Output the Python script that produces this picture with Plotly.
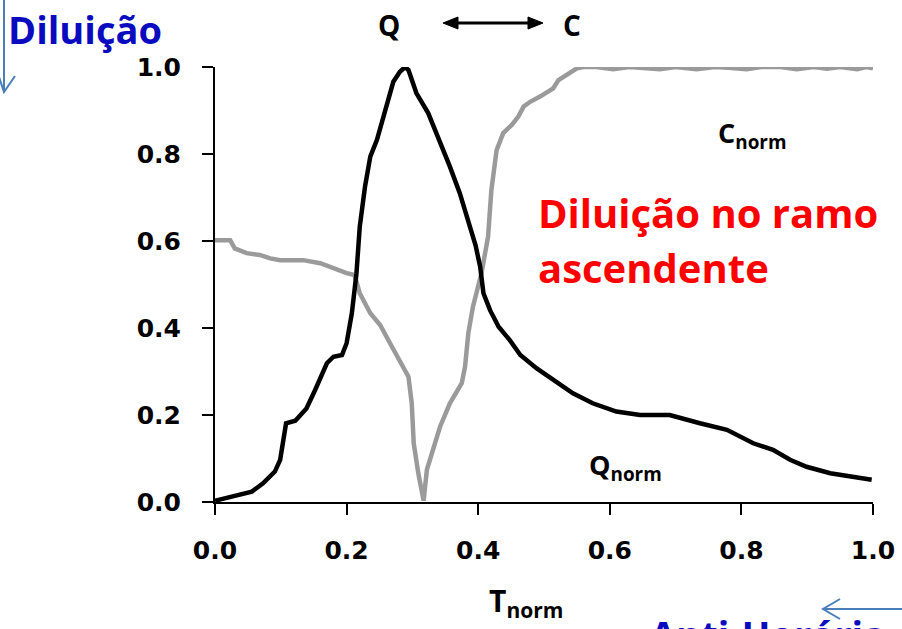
import plotly.graph_objects as go

# ---------------- data ----------------
q_x = [0.000, 0.018, 0.038, 0.056, 0.073, 0.091, 0.099, 0.103, 0.108, 0.122, 0.139, 0.152,
       0.170, 0.180, 0.193, 0.200, 0.208, 0.215, 0.220, 0.228, 0.236, 0.246, 0.253, 0.263,
       0.271, 0.281, 0.289, 0.294, 0.306, 0.324, 0.339, 0.357, 0.372, 0.388, 0.396, 0.403,
       0.408, 0.418, 0.431, 0.448, 0.464, 0.489, 0.514, 0.544, 0.574, 0.610, 0.646, 0.691,
       0.737, 0.778, 0.818, 0.848, 0.874, 0.899, 0.935, 0.965, 0.998]
q_y = [0.003, 0.009, 0.016, 0.024, 0.043, 0.070, 0.097, 0.143, 0.181, 0.187, 0.215, 0.257,
       0.319, 0.334, 0.338, 0.365, 0.434, 0.526, 0.633, 0.725, 0.794, 0.832, 0.870, 0.930,
       0.966, 0.989, 1.000, 0.993, 0.940, 0.894, 0.840, 0.771, 0.710, 0.633, 0.590, 0.541,
       0.480, 0.441, 0.403, 0.372, 0.338, 0.307, 0.280, 0.250, 0.227, 0.208, 0.200, 0.200,
       0.181, 0.166, 0.135, 0.120, 0.097, 0.081, 0.066, 0.058, 0.051]

c_x = [0.000, 0.023, 0.030, 0.048, 0.068, 0.084, 0.099, 0.134, 0.160, 0.180, 0.200, 0.212,
       0.220, 0.236, 0.251, 0.266, 0.281, 0.294, 0.299, 0.302, 0.309, 0.317, 0.322, 0.332,
       0.342, 0.357, 0.375, 0.380, 0.385, 0.392, 0.405, 0.415, 0.420, 0.428, 0.438, 0.451,
       0.461, 0.469, 0.479, 0.494, 0.514, 0.522, 0.534, 0.550, 0.560, 0.580, 0.605, 0.630,
       0.676, 0.700, 0.732, 0.760, 0.780, 0.808, 0.830, 0.860, 0.884, 0.910, 0.930, 0.950,
       0.976, 0.990, 1.000]
c_y = [0.602, 0.602, 0.583, 0.572, 0.568, 0.560, 0.556, 0.556, 0.549, 0.537, 0.526, 0.522,
       0.480, 0.434, 0.407, 0.365, 0.326, 0.288, 0.227, 0.135, 0.066, 0.003, 0.074, 0.120,
       0.173, 0.227, 0.273, 0.311, 0.388, 0.449, 0.526, 0.610, 0.717, 0.809, 0.848, 0.867,
       0.886, 0.909, 0.920, 0.932, 0.951, 0.970, 0.982, 0.997, 1.000, 1.000, 0.995, 1.000,
       0.995, 1.000, 0.995, 1.000, 0.998, 0.995, 1.000, 1.000, 0.995, 1.000, 0.996, 1.000,
       0.995, 1.000, 0.997]

tick_vals = [0.0, 0.2, 0.4, 0.6, 0.8, 1.0]
tick_text = ["0.0", "0.2", "0.4", "0.6", "0.8", "1.0"]

# ---------------- layout geometry ----------------
W, H = 902, 629
L, R, T, B = 215, 29, 67, 127
PW, PH = W - L - R, H - T - B


def px(xp):
    return (xp - L) / PW


def py(yp):
    return (H - B - yp) / PH


TXT = "Open Sans"
TICKF = "DejaVu Sans"

fig = go.Figure()
fig.add_trace(go.Scatter(x=c_x, y=c_y, mode="lines", line=dict(color="#9a9a9a", width=4.5),
                         cliponaxis=False, showlegend=False, hoverinfo="skip"))
fig.add_trace(go.Scatter(x=q_x, y=q_y, mode="lines", line=dict(color="#000000", width=4.5),
                         cliponaxis=False, showlegend=False, hoverinfo="skip"))

axis_common = dict(range=[0, 1], showgrid=False, zeroline=False, showline=True,
                   linecolor="black", linewidth=2, ticks="outside", ticklen=11,
                   tickwidth=2, tickcolor="black", tickvals=tick_vals, ticktext=tick_text,
                   automargin=False,
                   tickfont=dict(family=TICKF, size=25, color="black", weight="bold"))

fig.update_layout(
    width=W, height=H,
    margin=dict(l=L, r=R, t=T, b=B, autoexpand=False),
    paper_bgcolor="white", plot_bgcolor="white",
    xaxis=dict(**axis_common, ticklabelstandoff=14),
    yaxis=dict(**axis_common, ticklabelstandoff=16),
)


def ann(text, x, y, size, color="black", xanchor="left", yanchor="middle"):
    fig.add_annotation(text=text, x=px(x), y=py(y), xref="paper", yref="paper",
                       xanchor=xanchor, yanchor=yanchor, showarrow=False, align="left",
                       font=dict(family=TXT, size=size, color=color, weight="bold"))


ann("Diluição", 6, 29, 38, color="#0a0abf")
ann("Q", 389, 25, 28, xanchor="center")
ann("C", 572, 25, 28, xanchor="center")
ann("C<sub>norm</sub>", 716, 134, 27)
ann("Q<sub>norm</sub>", 587, 466, 27)
ann("Diluição no ramo", 536, 212, 40, color="#ff0000")
ann("ascendente", 536, 267, 40, color="#ff0000")
ann("T<sub>norm</sub>", 487, 602, 30)
ann("Anti-Horária", 648, 606, 38, color="#0a0abf", yanchor="top")

# arrows (shapes in paper coords)
blue = "#4a7ebb"
fig.add_shape(type="line", xref="paper", yref="paper", x0=px(4), x1=px(4), y0=py(0), y1=py(92),
              line=dict(color=blue, width=2))
fig.add_shape(type="path", xref="paper", yref="paper",
              path=f"M {px(-1)},{py(77)} L {px(4)},{py(92)} L {px(15)},{py(76)}",
              line=dict(color=blue, width=2))
fig.add_shape(type="line", xref="paper", yref="paper", x0=px(823), x1=px(905), y0=py(609), y1=py(609),
              line=dict(color=blue, width=2))
fig.add_shape(type="path", xref="paper", yref="paper",
              path=f"M {px(840)},{py(599)} L {px(823)},{py(609)} L {px(840)},{py(619)}",
              line=dict(color=blue, width=2))

# double-headed black arrow between Q and C
fig.add_shape(type="line", xref="paper", yref="paper", x0=px(455), x1=px(531), y0=py(23), y1=py(23),
              line=dict(color="black", width=3))
fig.add_shape(type="path", xref="paper", yref="paper",
              path=f"M {px(443)},{py(23)} L {px(458)},{py(17)} L {px(458)},{py(29)} Z",
              fillcolor="black", line=dict(color="black", width=1))
fig.add_shape(type="path", xref="paper", yref="paper",
              path=f"M {px(543)},{py(23)} L {px(528)},{py(17)} L {px(528)},{py(29)} Z",
              fillcolor="black", line=dict(color="black", width=1))

fig.write_html("out.html")
